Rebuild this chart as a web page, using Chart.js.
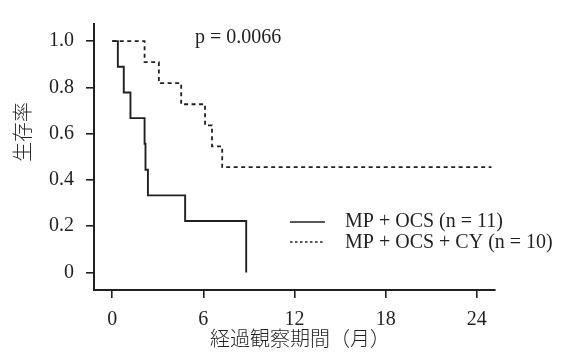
<!DOCTYPE html>
<html>
<head>
<meta charset="utf-8">
<script src="https://cdn.jsdelivr.net/npm/chart.js@4"></script>
<style>
  html, body { margin: 0; padding: 0; background: #fff; }
  #wrap { width: 564px; height: 355px; }
</style>
</head>
<body>
<div id="wrap"><canvas id="kmChart" width="564" height="355"></canvas></div>
<script>
// Kaplan-Meier steps: time (months) where survival drops, and survival after the drop
const mpOcsTimes = [0, 0.37, 0.76, 1.2, 2.13, 2.19, 2.35, 4.8, 8.82];
const mpOcsSurv  = [1.0, 0.889, 0.778, 0.667, 0.556, 0.444, 0.333, 0.222, 0];

const mpOcsCyTimes = [0, 2.13, 3.07, 4.54, 6.11, 6.57, 7.24, 24.97];
const mpOcsCySurv  = [1.0, 0.909, 0.818, 0.727, 0.636, 0.545, 0.455, 0.455];

const xTickValues = [0, 6, 12, 18, 24];
const yTickValues = [0, 0.2, 0.4, 0.6, 0.8, 1.0];
const yTickLabels = ['0', '0.2', '0.4', '0.6', '0.8', '1.0'];

const legendLabels = ['MP + OCS (n = 11)', 'MP + OCS + CY (n = 10)'];
const pValueText = 'p = 0.0066';
const xTitle = '経過観察期間（月）';
const yTitle = '生存率';

const ink = '#231f20';
const serif = '"Liberation Serif", "Noto Sans CJK JP", serif';
const cjk = '"Noto Sans CJK JP", "Liberation Serif", sans-serif';

const toPoints = (xs, ys) => xs.map((x, i) => ({ x: x, y: ys[i] }));

// text, legend and axis titles drawn on top of the plot
const annotate = {
  id: 'annotate',
  afterDraw(chart) {
    const ctx = chart.ctx;
    ctx.save();
    ctx.fillStyle = ink;
    ctx.strokeStyle = ink;

    ctx.font = '20px ' + serif;
    ctx.textBaseline = 'middle';
    ctx.textAlign = 'left';
    ctx.fillText(pValueText, 195, 38);

    // legend
    ctx.lineWidth = 1.6;
    ctx.setLineDash([]);
    ctx.beginPath();
    ctx.moveTo(290, 222);
    ctx.lineTo(325, 222);
    ctx.stroke();
    ctx.setLineDash([2.5, 2.5]);
    ctx.beginPath();
    ctx.moveTo(290, 242);
    ctx.lineTo(325, 242);
    ctx.stroke();
    ctx.setLineDash([]);
    ctx.font = '20px ' + serif;
    ctx.fillText(legendLabels[0], 345, 222);
    ctx.fillText(legendLabels[1], 345, 243);

    // axis titles
    ctx.font = '300 20px ' + cjk;
    ctx.textAlign = 'center';
    ctx.fillText(xTitle, 300, 338);
    ctx.translate(22, 132);
    ctx.rotate(-Math.PI / 2);
    ctx.fillText(yTitle, 0, 0);
    ctx.restore();
  }
};

new Chart(document.getElementById('kmChart').getContext('2d'), {
  type: 'line',
  data: {
    datasets: [
      {
        label: legendLabels[0],
        data: toPoints(mpOcsTimes, mpOcsSurv),
        borderColor: ink,
        borderWidth: 1.9,
        stepped: true,
        pointRadius: 0,
        fill: false
      },
      {
        label: legendLabels[1],
        data: toPoints(mpOcsCyTimes, mpOcsCySurv),
        borderColor: ink,
        borderWidth: 1.8,
        borderDash: [4, 3.5],
        stepped: true,
        pointRadius: 0,
        fill: false
      }
    ]
  },
  options: {
    responsive: false,
    animation: false,
    layout: { padding: { top: 10, right: 69, left: 0, bottom: 0 } },
    plugins: {
      legend: { display: false },
      tooltip: { enabled: false }
    },
    scales: {
      x: {
        type: 'linear',
        min: -1.2,
        max: 25.2,
        afterBuildTicks: s => { s.ticks = xTickValues.map(v => ({ value: v })); },
        afterFit: s => { s.height = 65; },
        grid: { drawOnChartArea: false, drawTicks: true, tickLength: 8, color: ink, lineWidth: 1.6 },
        border: { display: true, color: ink, width: 2 },
        ticks: {
          color: ink,
          padding: 10,
          maxRotation: 0,
          font: { family: serif, size: 20 },
          callback: v => String(v)
        }
      },
      y: {
        type: 'linear',
        min: -0.076,
        max: 1.074,
        afterBuildTicks: s => { s.ticks = yTickValues.map(v => ({ value: v })); },
        afterFit: s => { s.width = 94; },
        grid: { drawOnChartArea: false, drawTicks: true, tickLength: 8, color: ink, lineWidth: 1.6 },
        border: { display: true, color: ink, width: 2 },
        ticks: {
          color: ink,
          padding: 12,
          font: { family: serif, size: 20 },
          callback: v => yTickLabels[yTickValues.indexOf(Math.round(v * 10) / 10)]
        }
      }
    }
  },
  plugins: [annotate]
});
</script>
</body>
</html>
